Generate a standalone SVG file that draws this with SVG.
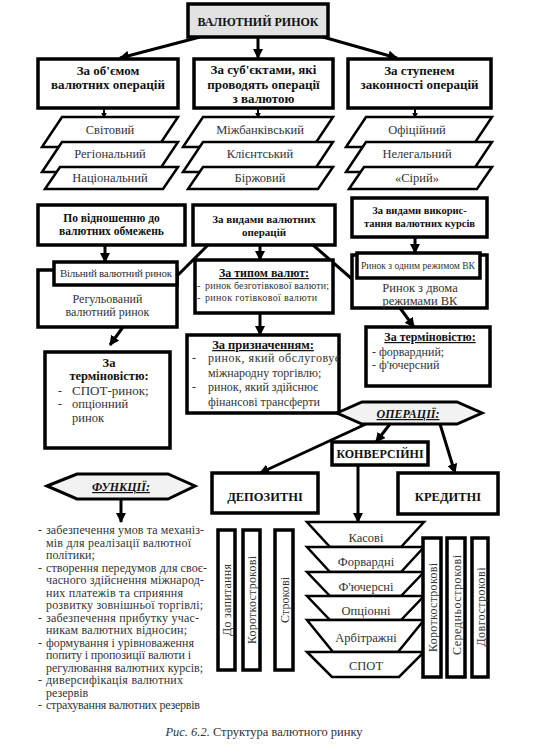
<svg xmlns="http://www.w3.org/2000/svg" width="545" height="753" viewBox="0 0 545 753" font-family="'Liberation Serif', 'Times New Roman', serif">
<defs>
<marker id="ah" viewBox="0 0 10 10" refX="9" refY="5" markerWidth="10" markerHeight="10" markerUnits="userSpaceOnUse" orient="auto"><path d="M0,0 L10,5 L0,10 z" fill="#000"/></marker>
<marker id="ahs" viewBox="0 0 10 10" refX="9" refY="5" markerWidth="6" markerHeight="6" markerUnits="userSpaceOnUse" orient="auto"><path d="M0,0 L10,5 L0,10 z" fill="#000"/></marker>
</defs>
<style>
text{font-family:'Liberation Serif','Times New Roman',serif}
.box{fill:#fff;stroke:#000;stroke-width:3.5}
.vb{fill:#fff;stroke:#000;stroke-width:3.5}
.pg{fill:#fff;stroke:#000;stroke-width:2.5}
.hex{fill:#f2f2f2;stroke:#000;stroke-width:3}
.c{stroke:#000;stroke-width:3;fill:none}
.cs{stroke:#000;stroke-width:2;fill:none}
.b{font-weight:bold;fill:#111}
.r{fill:#333}
.m{text-anchor:middle}
.u{text-decoration:underline}
.i{font-style:italic}
</style>

<g id="connectors">
<path class="c" d="M200,37 L120,58" marker-end="url(#ah)"/>
<path class="c" d="M258,37 L258,58" marker-end="url(#ah)"/>
<path class="c" d="M323,37 L397,58" marker-end="url(#ah)"/>
<path class="cs" d="M104,108 L104,118" marker-end="url(#ahs)"/>
<path class="cs" d="M258,108 L258,118" marker-end="url(#ahs)"/>
<path class="cs" d="M415,108 L415,118" marker-end="url(#ahs)"/>
<path class="c" d="M105,245 L105,262" marker-end="url(#ah)"/>
<path class="c" d="M260,245 L260,260" marker-end="url(#ah)"/>
<path class="c" d="M415,237 L415,253" marker-end="url(#ah)"/>
<path class="c" d="M208,245 L176,277"/>
<path class="c" d="M313,245 L352,279"/>
<path class="c" d="M123,327 L110,345" marker-end="url(#ah)"/>
<path class="c" d="M260,313 L260,335" marker-end="url(#ah)"/>
<path class="c" d="M400,308 L414,327" marker-end="url(#ah)"/>
<path class="c" d="M366,424 L260,473" marker-end="url(#ah)"/>
<path class="c" d="M390,424 L376,442" marker-end="url(#ah)"/>
<path class="c" d="M440,424 L455,473" marker-end="url(#ah)"/>
<path class="c" d="M358,465 L358,522" marker-end="url(#ah)"/>
<path class="c" d="M121,499 L121,522" marker-end="url(#ah)"/>
</g>

<g id="root">
<rect x="188" y="4" width="140" height="33" fill="#e2e2e2" stroke="#000" stroke-width="3.5"/>
<text x="258" y="26" class="b m" font-size="12">ВАЛЮТНИЙ РИНОК</text>
</g>

<g id="by-volume">
<rect class="box" x="38" y="59" width="140" height="49"/>
<text x="108" y="75" class="b m" font-size="13">За об'ємом</text>
<text x="108" y="89" class="b m" font-size="13">валютних операцій</text>
</g>
<g id="by-subjects">
<rect class="box" x="194" y="59" width="139" height="49"/>
<text x="263.5" y="74" class="b m" font-size="13">За суб'єктами, які</text>
<text x="263.5" y="88.5" class="b m" font-size="13">проводять операції</text>
<text x="263.5" y="103" class="b m" font-size="13">з валютою</text>
</g>
<g id="by-legality">
<rect class="box" x="348" y="59" width="143" height="49"/>
<text x="419.5" y="75" class="b m" font-size="13">За ступенем</text>
<text x="419.5" y="89" class="b m" font-size="13">законності операцій</text>
</g>

<g id="volume-items">
<polygon class="pg" points="62,117 178,117 158,147 42,147"/>
<text x="110" y="134" class="r m" font-size="12.5">Світовий</text>
<polygon class="pg" points="62,142 178,142 158,172 42,172"/>
<text x="110" y="158" class="r m" font-size="12.5">Регіональний</text>
<polygon class="pg" points="60,167 178,167 163,189 45,189"/>
<text x="110" y="182" class="r m" font-size="12.5">Національний</text>
</g>
<g id="subject-items">
<polygon class="pg" points="203,117 333,117 313,147 183,147"/>
<text x="260" y="134" class="r m" font-size="12.5">Міжбанківський</text>
<polygon class="pg" points="203,142 333,142 313,172 183,172"/>
<text x="260" y="158" class="r m" font-size="12.5">Клієнтський</text>
<polygon class="pg" points="203,167 333,167 318,189 188,189"/>
<text x="260" y="182" class="r m" font-size="12.5">Біржовий</text>
</g>
<g id="legality-items">
<polygon class="pg" points="366,117 492,117 472,147 346,147"/>
<text x="417" y="134" class="r m" font-size="12.5">Офіційний</text>
<polygon class="pg" points="366,142 492,142 472,172 346,172"/>
<text x="417" y="158" class="r m" font-size="12.5">Нелегальний</text>
<polygon class="pg" points="364,167 492,167 477,189 349,189"/>
<text x="417" y="182" class="r m" font-size="12.5">«Сірий»</text>
</g>

<g id="by-restrictions">
<rect class="box" x="38" y="205" width="147" height="40"/>
<text x="111.5" y="222" class="b m" font-size="11.5">По відношенню до</text>
<text x="111.5" y="235" class="b m" font-size="11.5">валютних обмежень</text>
</g>
<g id="by-operation-types">
<rect class="box" x="193" y="205" width="142" height="40"/>
<text x="264" y="223" class="b m" font-size="11">За видами валютних</text>
<text x="264" y="236" class="b m" font-size="11">операцій</text>
</g>
<g id="by-rate-use">
<rect class="box" x="352" y="198" width="135" height="39"/>
<text x="419.5" y="214" class="b m" font-size="10.5">За видами викорис-</text>
<text x="419.5" y="227" class="b m" font-size="10.5">тання валютних курсів</text>
</g>

<g id="regulated">
<rect class="box" x="38" y="270" width="139" height="57"/>
<text x="107.5" y="303" class="r m" font-size="12">Регульований</text>
<text x="107.5" y="316" class="r m" font-size="12">валютний ринок</text>
</g>
<g id="free">
<rect class="box" x="54" y="262" width="123" height="23"/>
<text x="116" y="277" class="r m" font-size="11" textLength="112">Вільний валютний ринок</text>
</g>

<g id="currency-type">
<rect class="box" x="195" y="260" width="138" height="53"/>
<text x="264" y="277" class="b m u" font-size="12">За типом валют:</text>
<text x="197" y="289" class="r" font-size="10">-</text>
<text x="205" y="289" class="r" font-size="10" textLength="124">ринок безготівкової валюти;</text>
<text x="197" y="301" class="r" font-size="10">-</text>
<text x="205" y="301" class="r" font-size="10" textLength="112">ринок готівкової валюти</text>
</g>

<g id="purpose">
<rect class="box" x="187" y="335" width="152" height="78"/>
<text x="263" y="349" class="b m u" font-size="12.5">За призначенням:</text>
<text x="192" y="362" class="r" font-size="12">-</text>
<text x="208" y="362" class="r" font-size="12" textLength="132">ринок, який обслуговує</text>
<text x="208" y="377" class="r" font-size="12">міжнародну торгівлю;</text>
<text x="192" y="391" class="r" font-size="12">-</text>
<text x="208" y="391" class="r" font-size="12">ринок, який здійснює</text>
<text x="208" y="406" class="r" font-size="12">фінансові трансферти</text>
</g>

<g id="two-regimes">
<rect class="box" x="352" y="255" width="135" height="53"/>
<text x="420" y="292" class="r m" font-size="12.5">Ринок з двома</text>
<text x="420" y="305" class="r m" font-size="12.5">режимами ВК</text>
</g>
<g id="one-regime">
<rect class="box" x="357" y="253" width="123" height="25"/>
<text x="418" y="269" class="r m" font-size="10.5" textLength="114" lengthAdjust="spacingAndGlyphs">Ринок з одним режимом ВК</text>
</g>

<g id="term-right">
<rect class="box" x="366" y="327" width="124" height="59"/>
<text x="430" y="341" class="b m u" font-size="12">За терміновістю:</text>
<text x="372" y="356" class="r" font-size="12">- форвардний;</text>
<text x="372" y="369" class="r" font-size="12">- ф'ючерсний</text>
</g>

<g id="term-left">
<rect class="box" x="45" y="352" width="125" height="96"/>
<text x="109" y="367" class="b m" font-size="12.5">За</text>
<text x="109" y="380" class="b m" font-size="12.5">терміновістю:</text>
<text x="58" y="395" class="r" font-size="12">-</text>
<text x="72" y="395" class="r" font-size="13">СПОТ-ринок;</text>
<text x="58" y="408" class="r" font-size="12">-</text>
<text x="72" y="408" class="r" font-size="12.5">опціонний</text>
<text x="72" y="422" class="r" font-size="12.5">ринок</text>
</g>

<g id="operations">
<polygon class="hex" points="337,413 362,402 457,402 482,413 457,424 362,424"/>
<text x="408" y="418" class="b i u m" font-size="12">ОПЕРАЦІЇ:</text>
</g>

<g id="conversion">
<rect class="box" x="332" y="442" width="96" height="23"/>
<text x="380" y="458" class="b m" font-size="12">КОНВЕРСІЙНІ</text>
</g>
<g id="deposit">
<rect class="box" x="212" y="473" width="106" height="40"/>
<text x="265" y="501" class="b m" font-size="12.5">ДЕПОЗИТНІ</text>
</g>
<g id="credit">
<rect class="box" x="398" y="473" width="100" height="41"/>
<text x="448" y="501" class="b m" font-size="12.5">КРЕДИТНІ</text>
</g>

<g id="functions">
<polygon class="hex" points="47,486 77,474 168,474 195,486 168,499 77,499"/>
<text x="121" y="491" class="b i u m" font-size="12">ФУНКЦІЇ:</text>
</g>

<g id="functions-list" font-size="12">
<text x="38" y="534" class="r">-</text>
<text x="46" y="534" class="r" textLength="158">забезпечення умов та механіз-</text>
<text x="46" y="546.5" class="r" textLength="145">мів для реалізації валютної</text>
<text x="46" y="559" class="r">політики;</text>
<text x="38" y="571.5" class="r">-</text>
<text x="46" y="571.5" class="r" textLength="161">створення передумов для своє-</text>
<text x="46" y="584" class="r" textLength="158">часного здійснення міжнарод-</text>
<text x="46" y="596.5" class="r" textLength="137">них платежів та сприяння</text>
<text x="46" y="609" class="r" textLength="157">розвитку зовнішньої торгівлі;</text>
<text x="38" y="621.5" class="r">-</text>
<text x="46" y="621.5" class="r" textLength="153">забезпечення прибутку учас-</text>
<text x="46" y="634" class="r" textLength="141">никам валютних відносин;</text>
<text x="38" y="646.5" class="r">-</text>
<text x="46" y="646.5" class="r" textLength="148">формування і урівноваження</text>
<text x="46" y="659" class="r" textLength="145">попиту і пропозиції валюти і</text>
<text x="46" y="671.5" class="r" textLength="157">регулювання валютних курсів;</text>
<text x="38" y="684" class="r">-</text>
<text x="46" y="684" class="r" textLength="137">диверсифікація валютних</text>
<text x="46" y="696.5" class="r">резервів</text>
<text x="38" y="709" class="r">-</text>
<text x="46" y="709" class="r" textLength="154">страхування валютних резервів</text>
</g>

<g id="deposit-types">
<rect class="vb" x="218" y="530" width="17" height="140"/>
<text transform="translate(231,600) rotate(-90)" class="r m" font-size="12" textLength="72">До запитання</text>
<rect class="vb" x="243" y="530" width="17" height="140"/>
<text transform="translate(256,600) rotate(-90)" class="r m" font-size="12" textLength="88">Короткострокові</text>
<rect class="vb" x="275" y="530" width="18" height="140"/>
<text transform="translate(288.5,600) rotate(-90)" class="r m" font-size="12" textLength="46">Строкові</text>
</g>

<g id="conversion-types">
<polygon class="pg" points="307,522 424,522 401,547 330,547"/>
<text x="366" y="542" class="r m" font-size="12.5">Касові</text>
<polygon class="pg" points="307,547 424,547 401,572 330,572"/>
<text x="366" y="566" class="r m" font-size="12.5">Форвардні</text>
<polygon class="pg" points="307,572 424,572 401,596 330,596"/>
<text x="366" y="591" class="r m" font-size="12.5">Ф'ючерсні</text>
<polygon class="pg" points="307,596 424,596 401,620 330,620"/>
<text x="366" y="615" class="r m" font-size="12.5">Опціонні</text>
<polygon class="pg" points="307,620 424,620 398,652 333,652"/>
<text x="366" y="642" class="r m" font-size="12.5">Арбітражні</text>
<polygon class="pg" points="307,652 424,652 399,677 332,677"/>
<text x="366" y="670" class="r m" font-size="12.5">СПОТ</text>
</g>

<g id="credit-types">
<rect class="vb" x="423" y="538" width="18" height="139"/>
<text transform="translate(436.5,607.5) rotate(-90)" class="r m" font-size="12" textLength="89">Короткострокові</text>
<rect class="vb" x="447" y="538" width="18" height="139"/>
<text transform="translate(460.5,605) rotate(-90)" class="r m" font-size="12" textLength="100">Середньострокові</text>
<rect class="vb" x="472" y="538" width="16" height="139"/>
<text transform="translate(484.5,607) rotate(-90)" class="r m" font-size="12" textLength="79">Довгострокові</text>
</g>

<g id="caption">
<text x="264" y="736" class="r m" font-size="12.5"><tspan class="i">Рис. 6.2.</tspan> Структура валютного ринку</text>
</g>
</svg>
